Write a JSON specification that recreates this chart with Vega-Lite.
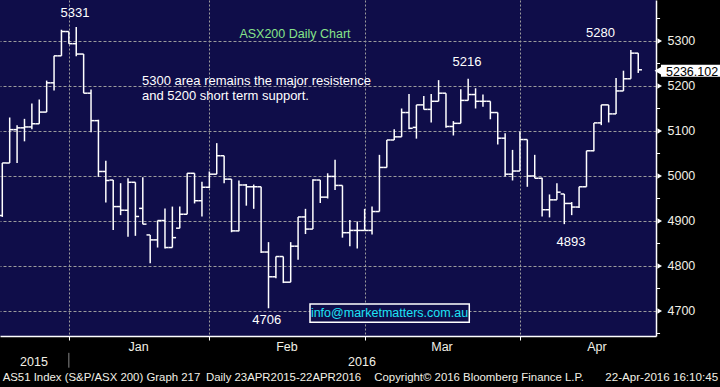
{
  "$schema": "https://vega.github.io/schema/vega-lite/v6.json",
  "width": 656,
  "height": 336,
  "autosize": "none",
  "padding": {"left": 0, "top": 0, "right": 64, "bottom": 51},
  "background": "#000000",
  "config": {
    "view": {"fill": "#0f0d49", "stroke": null},
    "text": {"font": "Liberation Sans"},
    "axis": {"labelFont": "Liberation Sans"}
  },
  "datasets": {
    "bars": [
      {"n":1,"o":4912,"h":5029,"l":4909,"c":5029},
      {"n":2,"o":5029,"h":5130,"l":5029,"c":5103},
      {"n":3,"o":5103,"h":5113,"l":5029,"c":5107},
      {"n":4,"o":5107,"h":5127,"l":5077,"c":5109},
      {"n":5,"o":5109,"h":5161,"l":5104,"c":5116},
      {"n":6,"o":5116,"h":5170,"l":5116,"c":5142},
      {"n":7,"o":5142,"h":5212,"l":5142,"c":5207},
      {"n":8,"o":5207,"h":5267,"l":5190,"c":5267},
      {"n":9,"o":5267,"h":5325,"l":5267,"c":5321},
      {"n":10,"o":5321,"h":5321,"l":5294,"c":5294},
      {"n":11,"o":5294,"h":5331,"l":5266,"c":5271},
      {"n":12,"o":5271,"h":5271,"l":5184,"c":5184},
      {"n":13,"o":5184,"h":5192,"l":5097,"c":5123},
      {"n":14,"o":5123,"h":5125,"l":4998,"c":5010},
      {"n":15,"o":5010,"h":5034,"l":4941,"c":4990},
      {"n":16,"o":4991,"h":4991,"l":4880,"c":4932},
      {"n":17,"o":4932,"h":4984,"l":4913,"c":4924},
      {"n":18,"o":4924,"h":4995,"l":4865,"c":4986},
      {"n":19,"o":4986,"h":4986,"l":4867,"c":4910},
      {"n":20,"o":4928,"h":4997,"l":4893,"c":4893},
      {"n":21,"o":4869,"h":4869,"l":4806,"c":4858},
      {"n":22,"o":4858,"h":4901,"l":4841,"c":4901},
      {"n":23,"o":4901,"h":4928,"l":4839,"c":4841},
      {"n":24,"o":4841,"h":4932,"l":4841,"c":4863},
      {"n":25,"o":4884,"h":4932,"l":4884,"c":4915},
      {"n":26,"o":4915,"h":5006,"l":4915,"c":5006},
      {"n":27,"o":5006,"h":5006,"l":4939,"c":4945},
      {"n":28,"o":4945,"h":4987,"l":4910,"c":4975},
      {"n":29,"o":4975,"h":5010,"l":4973,"c":5004},
      {"n":30,"o":5004,"h":5073,"l":5004,"c":5045},
      {"n":31,"o":5045,"h":5045,"l":4984,"c":4993},
      {"n":32,"o":4993,"h":4993,"l":4875,"c":4878},
      {"n":33,"o":4878,"h":4990,"l":4877,"c":4980},
      {"n":34,"o":4980,"h":4982,"l":4934,"c":4976},
      {"n":35,"o":4976,"h":4981,"l":4927,"c":4976},
      {"n":36,"o":4976,"h":4976,"l":4829,"c":4831},
      {"n":37,"o":4831,"h":4853,"l":4706,"c":4776},
      {"n":38,"o":4776,"h":4821,"l":4773,"c":4821},
      {"n":39,"o":4821,"h":4821,"l":4762,"c":4764},
      {"n":40,"o":4764,"h":4853,"l":4764,"c":4844},
      {"n":41,"o":4844,"h":4909,"l":4814,"c":4909},
      {"n":42,"o":4909,"h":4927,"l":4871,"c":4882},
      {"n":43,"o":4882,"h":4993,"l":4882,"c":4991},
      {"n":44,"o":4991,"h":4991,"l":4940,"c":4953},
      {"n":45,"o":4953,"h":5006,"l":4950,"c":4999},
      {"n":46,"o":4999,"h":5036,"l":4969,"c":4979},
      {"n":47,"o":4979,"h":4979,"l":4863,"c":4874},
      {"n":48,"o":4874,"h":4902,"l":4844,"c":4879},
      {"n":49,"o":4879,"h":4899,"l":4839,"c":4879},
      {"n":50,"o":4879,"h":4927,"l":4879,"c":4879},
      {"n":51,"o":4879,"h":4932,"l":4870,"c":4921},
      {"n":52,"o":4921,"h":5047,"l":4921,"c":5019},
      {"n":53,"o":5019,"h":5080,"l":5019,"c":5080},
      {"n":54,"o":5080,"h":5104,"l":5080,"c":5087},
      {"n":55,"o":5087,"h":5150,"l":5087,"c":5141},
      {"n":56,"o":5141,"h":5182,"l":5104,"c":5106},
      {"n":57,"o":5108,"h":5158,"l":5083,"c":5158},
      {"n":58,"o":5158,"h":5178,"l":5148,"c":5148},
      {"n":59,"o":5148,"h":5182,"l":5119,"c":5166},
      {"n":60,"o":5166,"h":5213,"l":5166,"c":5184},
      {"n":61,"o":5184,"h":5184,"l":5107,"c":5110},
      {"n":62,"o":5110,"h":5122,"l":5090,"c":5117},
      {"n":63,"o":5117,"h":5193,"l":5117,"c":5168},
      {"n":64,"o":5168,"h":5216,"l":5168,"c":5181},
      {"n":65,"o":5181,"h":5195,"l":5150,"c":5166},
      {"n":66,"o":5166,"h":5181,"l":5154,"c":5166},
      {"n":67,"o":5166,"h":5166,"l":5126,"c":5141},
      {"n":68,"o":5141,"h":5141,"l":5070,"c":5084},
      {"n":69,"o":5084,"h":5095,"l":4999,"c":5004},
      {"n":70,"o":5004,"h":5058,"l":4990,"c":5011},
      {"n":71,"o":5011,"h":5099,"l":5011,"c":5081},
      {"n":72,"o":5081,"h":5081,"l":4976,"c":5000},
      {"n":73,"o":5000,"h":5047,"l":4995,"c":4995},
      {"n":74,"o":4995,"h":4996,"l":4910,"c":4925},
      {"n":75,"o":4925,"h":4959,"l":4908,"c":4947},
      {"n":76,"o":4947,"h":4984,"l":4947,"c":4964},
      {"n":77,"o":4960,"h":4960,"l":4893,"c":4939},
      {"n":78,"o":4939,"h":4942,"l":4913,"c":4931},
      {"n":79,"o":4931,"h":4976,"l":4929,"c":4976},
      {"n":80,"o":4976,"h":5056,"l":4976,"c":5056},
      {"n":81,"o":5056,"h":5118,"l":5055,"c":5118},
      {"n":82,"o":5118,"h":5158,"l":5113,"c":5158},
      {"n":83,"o":5158,"h":5158,"l":5119,"c":5138},
      {"n":84,"o":5138,"h":5218,"l":5138,"c":5189},
      {"n":85,"o":5189,"h":5234,"l":5189,"c":5216},
      {"n":86,"o":5216,"h":5280,"l":5216,"c":5273},
      {"n":87,"o":5273,"h":5273,"l":5229,"c":5236}
    ],
    "peaks": [
      {"n":10.83,"v":5353,"text":"5331"},
      {"n":63.84,"v":5244,"text":"5216"},
      {"n":81.9,"v":5308,"text":"5280"},
      {"n":77.9,"v":4844,"text":"4893"},
      {"n":36.76,"v":4670,"text":"4706"}
    ],
    "title": [{"n":40.58,"v":5306,"text":"ASX200 Daily Chart"}],
    "note": [
      {"n":19.89,"v":5203,"text":"5300 area remains the major resistence"},
      {"n":19.89,"v":5168,"text":"and 5200 short term support."}
    ],
    "months": [
      {"n":19.43,"v":4612,"text":"Jan"},
      {"n":39.5,"v":4612,"text":"Feb"},
      {"n":60.46,"v":4612,"text":"Mar"},
      {"n":81.42,"v":4612,"text":"Apr"},
      {"n":5.29,"v":4577,"text":"2015"},
      {"n":49.64,"v":4577,"text":"2016"}
    ],
    "yearsep": [{"n":10,"v":4607,"v2":4574}],
    "footleft": [
      {"n":1.05,"v":4544,"text":"AS51 Index (S&P/ASX 200) Graph 217"},
      {"n":28.55,"v":4544,"text":"Daily 23APR2015-22APR2016"},
      {"n":51.3,"v":4544,"text":"Copyright© 2016 Bloomberg Finance L.P."}
    ],
    "footright": [{"n":97.8,"v":4544,"text":"22-Apr-2016 16:10:45"}],
    "majorticks": [
      {"n":89.9,"v":4700},{"n":89.9,"v":4800},{"n":89.9,"v":4900},{"n":89.9,"v":5000},
      {"n":89.9,"v":5100},{"n":89.9,"v":5200},{"n":89.9,"v":5300}
    ],
    "minorticks": [
      {"n":89.4,"n2":89.95,"v":4650},{"n":89.4,"n2":89.95,"v":4750},{"n":89.4,"n2":89.95,"v":4850},
      {"n":89.4,"n2":89.95,"v":4950},{"n":89.4,"n2":89.95,"v":5050},{"n":89.4,"n2":89.95,"v":5150},
      {"n":89.4,"n2":89.95,"v":5250},{"n":89.4,"n2":89.95,"v":5350}
    ],
    "infobox": [{"n":42.61,"n2":64.15,"v":4715.6,"v2":4674.7}],
    "infotext": [{"n":53.36,"v":4685.6,"text":"info@marketmatters.com.au"}],
    "lastbox": [{"n":90.07,"n2":98.2,"v":5247.3,"v2":5220.5}],
    "lastarrow": [{"n":89.75,"v":5234}],
    "lasttext": [{"n":90.75,"v":5223,"text":"5236.102"}]
  },
  "encoding": {
    "x": {
      "field": "n",
      "type": "quantitative",
      "scale": {"domain": [0.69, 89.4], "nice": false, "zero": false},
      "axis": {
        "values": [10, 29, 50, 71],
        "labels": false,
        "title": null,
        "grid": true,
        "gridColor": "#9c9c9c",
        "gridDash": [2, 2],
        "gridWidth": 1,
        "tickSize": 4,
        "tickColor": "#ffffff",
        "domainColor": "#ffffff",
        "domainWidth": 1.5
      }
    },
    "y": {
      "field": "v",
      "type": "quantitative",
      "title": null,
      "scale": {"domain": [4644.4, 5391.1], "nice": false, "zero": false},
      "axis": {
        "orient": "right",
        "title": null,
        "values": [4700, 4800, 4900, 5000, 5100, 5200, 5300],
        "format": "d",
        "labelColor": "#f2f0e6",
        "labelFontSize": 12.5,
        "labelPadding": 4,
        "ticks": true,
        "tickSize": 7,
        "tickOpacity": 0,
        "domainColor": "#ffffff",
        "domainWidth": 1.5,
        "grid": true,
        "gridColor": "#9c9c9c",
        "gridDash": [3, 2]
      }
    }
  },
  "layer": [
    {
      "data": {"name": "bars"},
      "mark": {"type": "rule", "color": "#ffffff", "strokeWidth": 1.5},
      "encoding": {
        "y": {"field": "l", "type": "quantitative", "title": null, "scale": {"domain": [4644.4, 5391.1], "nice": false, "zero": false}},
        "y2": {"field": "h"}
      }
    },
    {
      "data": {"name": "bars"},
      "mark": {"type": "tick", "orient": "horizontal", "color": "#ffffff", "opacity": 1, "size": 3.7, "thickness": 1.5, "xOffset": -1.85},
      "encoding": {
        "y": {"field": "o", "type": "quantitative", "title": null, "scale": {"domain": [4644.4, 5391.1], "nice": false, "zero": false}}
      }
    },
    {
      "data": {"name": "bars"},
      "mark": {"type": "tick", "orient": "horizontal", "color": "#ffffff", "opacity": 1, "size": 3.7, "thickness": 1.5, "xOffset": 1.85},
      "encoding": {
        "y": {"field": "c", "type": "quantitative", "title": null, "scale": {"domain": [4644.4, 5391.1], "nice": false, "zero": false}}
      }
    },
    {
      "data": {"name": "infobox"},
      "mark": {"type": "rect", "fill": "#0f0d49", "stroke": "#ffffff", "strokeWidth": 1.5, "clip": false},
      "encoding": {"x2": {"field": "n2"}, "y2": {"field": "v2"}}
    },
    {
      "data": {"name": "infotext"},
      "mark": {"type": "text", "color": "#1ee3f5", "fontSize": 12.5, "align": "center", "baseline": "alphabetic", "clip": false},
      "encoding": {"text": {"field": "text"}}
    },
    {
      "data": {"name": "peaks"},
      "mark": {"type": "text", "color": "#ffffff", "fontSize": 13, "align": "center", "baseline": "alphabetic", "clip": false},
      "encoding": {"text": {"field": "text"}}
    },
    {
      "data": {"name": "title"},
      "mark": {"type": "text", "color": "#86e38a", "fontSize": 12.5, "align": "center", "baseline": "alphabetic", "clip": false},
      "encoding": {"text": {"field": "text"}}
    },
    {
      "data": {"name": "note"},
      "mark": {"type": "text", "color": "#ffffff", "fontSize": 13, "align": "left", "baseline": "alphabetic", "clip": false},
      "encoding": {"text": {"field": "text"}}
    },
    {
      "data": {"name": "months"},
      "mark": {"type": "text", "color": "#f2f0e6", "fontSize": 12.5, "align": "center", "baseline": "alphabetic", "clip": false},
      "encoding": {"text": {"field": "text"}}
    },
    {
      "data": {"name": "yearsep"},
      "mark": {"type": "rule", "color": "#8a8a8a", "strokeWidth": 1, "clip": false},
      "encoding": {"y2": {"field": "v2"}}
    },
    {
      "data": {"name": "footleft"},
      "mark": {"type": "text", "color": "#f2f0e6", "fontSize": 11.4, "align": "left", "baseline": "alphabetic", "clip": false},
      "encoding": {"text": {"field": "text"}}
    },
    {
      "data": {"name": "footright"},
      "mark": {"type": "text", "color": "#f2f0e6", "fontSize": 11.6, "align": "right", "baseline": "alphabetic", "clip": false},
      "encoding": {"text": {"field": "text"}}
    },
    {
      "data": {"name": "minorticks"},
      "mark": {"type": "rule", "color": "#ffffff", "strokeWidth": 1, "clip": false},
      "encoding": {"x2": {"field": "n2"}}
    },
    {
      "data": {"name": "majorticks"},
      "mark": {"type": "point", "shape": "triangle-right", "filled": true, "color": "#ffffff", "opacity": 1, "size": 28, "clip": false},
      "encoding": {}
    },
    {
      "data": {"name": "lastbox"},
      "mark": {"type": "rect", "fill": "#ffffff", "clip": false},
      "encoding": {"x2": {"field": "n2"}, "y2": {"field": "v2"}}
    },
    {
      "data": {"name": "lastarrow"},
      "mark": {"type": "point", "shape": "triangle-left", "filled": true, "color": "#ffffff", "opacity": 1, "size": 90, "clip": false},
      "encoding": {}
    },
    {
      "data": {"name": "lasttext"},
      "mark": {"type": "text", "color": "#000000", "fontSize": 12.5, "align": "left", "baseline": "alphabetic", "clip": false},
      "encoding": {"text": {"field": "text"}}
    }
  ]
}
